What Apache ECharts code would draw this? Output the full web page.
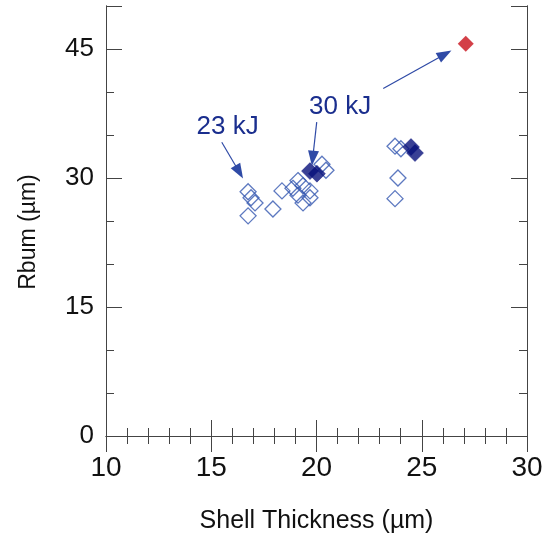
<!DOCTYPE html>
<html><head><meta charset="utf-8">
<script src="https://cdn.jsdelivr.net/npm/echarts@6/dist/echarts.min.js"></script>
<style>html,body{margin:0;padding:0;background:#fff}#c{width:546px;height:539px}</style>
</head><body><div id="c"></div>
<script>
// Shell thickness (µm) and Rburn (µm)
const hollowX = [16.75, 16.89, 17.08, 16.75, 17.93, 18.36, 20.26, 20.45, 19.12, 19.36, 18.88, 19.69, 19.12, 19.69, 19.36, 23.73, 24.01, 23.87, 23.73];
const hollowY = [28.4, 27.7, 27.1, 25.6, 26.4, 28.5, 31.6, 30.9, 29.7, 29.1, 28.8, 28.5, 28.0, 27.7, 27.1, 33.7, 33.4, 30.0, 27.6];
const filledX = [19.69, 20.02, 24.49, 24.68];
const filledY = [30.8, 30.5, 33.6, 32.9];
const redX = [27.09];
const redY = [45.6];
const xTicks = [10, 15, 20, 25, 30];
const yTicks = [0, 15, 30, 45];
const labels = ['23 kJ', '30 kJ'];
const labelX = [15.78, 21.12];
const labelY = [35.9, 38.3];
const arrowFromX = [15.50, 20.01, 23.17];
const arrowFromY = [34.15, 36.5, 40.4];
const arrowToX = [16.33, 19.82, 26.10];
const arrowToY = [30.7, 32.3, 44.4];

const FONT = "'Liberation Sans', Arial, sans-serif";
const axisCol = '#444';
const zip = (a, b) => a.map((v, i) => [v, b[i]]);

const xBase = {
  type: 'value', min: xTicks[0], max: xTicks[xTicks.length - 1], interval: xTicks[1] - xTicks[0],
  splitLine: { show: false },
  axisLine: { show: true, lineStyle: { color: axisCol, width: 1 } },
  axisTick: { show: true, inside: true, length: 16, lineStyle: { color: axisCol } },
  minorTick: { show: true, splitNumber: 5, length: 8, lineStyle: { color: axisCol } }
};
function yAx(pos, interval, len, showLabel) {
  return {
    type: 'value', position: pos, min: 0, max: 50, interval: interval,
    splitLine: { show: false },
    axisLine: { show: true, lineStyle: { color: axisCol, width: 1 } },
    axisTick: { show: true, inside: true, length: len, lineStyle: { color: axisCol } },
    axisLabel: showLabel ? {
      show: true, fontSize: 26, color: '#111', fontFamily: FONT, margin: 12,
      formatter: v => (yTicks.indexOf(v) >= 0 ? String(v) : '')
    } : { show: false }
  };
}

const chart = echarts.init(document.getElementById('c'));
chart.setOption({
  animation: false,
  backgroundColor: '#fff',
  grid: { left: 106, right: 19, top: 6, bottom: 102 },
  xAxis: [
    Object.assign({}, xBase, {
      position: 'bottom',
      axisLabel: { show: true, fontSize: 28, color: '#111', fontFamily: FONT, margin: 18 },
      name: 'Shell Thickness (µm)', nameLocation: 'middle', nameGap: 73,
      nameTextStyle: { fontSize: 25, color: '#111', fontFamily: FONT }
    }),
    Object.assign({}, xBase, { position: 'top', axisLabel: { show: false } })
  ],
  yAxis: [
    Object.assign(yAx('left', 15, 16, true), {
      name: 'Rbum (µm)', nameLocation: 'middle', nameGap: 66,
      nameTextStyle: { fontSize: 23, color: '#111', fontFamily: FONT, padding: [0, 22, 0, 0] }
    }),
    yAx('left', 5, 8, false),
    yAx('right', 15, 16, false),
    yAx('right', 5, 8, false)
  ],
  series: [
    {
      type: 'scatter', symbol: 'diamond', symbolSize: 16,
      data: zip(hollowX, hollowY),
      itemStyle: { color: 'rgba(0,0,0,0)', borderColor: '#3457b0', borderWidth: 1.3 },
      markLine: {
        silent: true, symbol: ['none', 'triangle'], symbolSize: [11, 15],
        label: { show: false },
        lineStyle: { color: '#2f4aa6', width: 1.2, type: 'solid' },
        itemStyle: { color: '#0d1f86' },
        data: arrowFromX.map((x, i) => [
          { coord: [x, arrowFromY[i]] },
          { coord: [arrowToX[i], arrowToY[i]] }
        ])
      },
      markPoint: {
        silent: true, symbol: 'circle', symbolSize: 1,
        itemStyle: { color: 'rgba(0,0,0,0)' },
        label: { show: true, position: 'inside', color: '#1a2e8e', fontSize: 26, fontFamily: FONT,
                 formatter: p => p.name },
        data: labels.map((t, i) => ({ name: t, coord: [labelX[i], labelY[i]] }))
      }
    },
    {
      type: 'scatter', symbol: 'diamond', symbolSize: 17,
      data: zip(filledX, filledY),
      itemStyle: { color: '#07107a', borderColor: '#07107a', borderWidth: 0.5 }
    },
    {
      type: 'scatter', symbol: 'diamond', symbolSize: 16,
      data: zip(redX, redY),
      itemStyle: { color: '#c8101a' }
    }
  ]
});
</script></body></html>
